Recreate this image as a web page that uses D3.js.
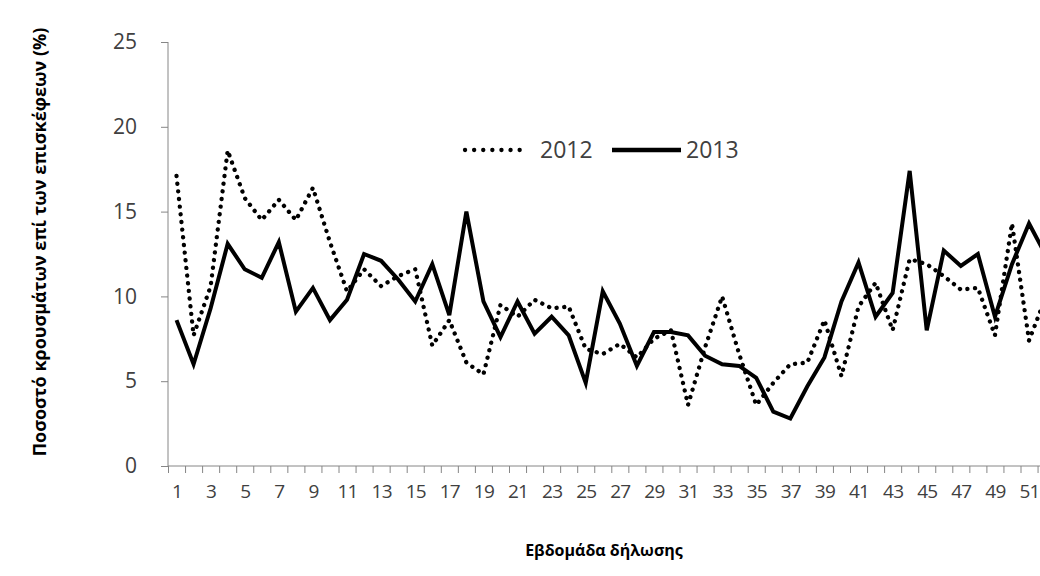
<!DOCTYPE html>
<html>
<head>
<meta charset="utf-8">
<script src="https://cdn.jsdelivr.net/npm/d3@7"></script>
<style>
  body { margin: 0; background: #fff; }
  svg { display: block; }
  text { font-family: "Open Sans", "Noto Sans", sans-serif; }
</style>
</head>
<body>
<div id="chart"></div>
<script>
// weeks of declaration
var weeks = d3.range(1, 53);

// percentage of cases among visits, 2012 (dotted)
var values2012 = [17.1, 7.7, 10.6, 18.6, 15.8, 14.5, 15.7, 14.5, 16.4, 13.2,
                  10.3, 11.6, 10.6, 11.2, 11.6, 7.1, 8.6, 6.1, 5.4, 9.5,
                  8.8, 9.8, 9.3, 9.4, 6.9, 6.6, 7.2, 6.4, 7.5, 8.0,
                  3.6, 7.0, 10.0, 6.6, 3.6, 4.9, 6.0, 6.1, 8.6, 5.3,
                  9.4, 10.8, 8.0, 12.2, 11.9, 11.2, 10.4, 10.5, 7.7, 14.3,
                  7.4, 10.0];

// percentage of cases among visits, 2013 (solid)
var values2013 = [8.6, 6.0, 9.3, 13.1, 11.6, 11.1, 13.2, 9.1, 10.5, 8.6,
                  9.8, 12.5, 12.1, 11.0, 9.7, 11.9, 8.9, 15.0, 9.7, 7.6,
                  9.7, 7.8, 8.8, 7.7, 4.9, 10.3, 8.4, 5.9, 7.9, 7.9,
                  7.7, 6.5, 6.0, 5.9, 5.2, 3.2, 2.8, 4.7, 6.4, 9.7,
                  12.0, 8.8, 10.2, 17.4, 8.0, 12.7, 11.8, 12.5, 8.8, 11.9,
                  14.3, 12.4];

var yTicks = [0, 5, 10, 15, 20, 25];
var seriesNames = ["2012", "2013"];

var width = 1040, height = 576;
var margin = {top: 42, left: 168, bottom: 110};
var bandW = 17.05;

var svg = d3.select("#chart").append("svg")
    .attr("width", width)
    .attr("height", height);

var x = d3.scaleLinear()
    .domain([0.5, weeks.length + 0.5])
    .range([margin.left, margin.left + weeks.length * bandW]);

var y = d3.scaleLinear()
    .domain([0, 25])
    .range([height - margin.bottom, margin.top]);

var axisColor = "#868686";
var textColor = "#404040";

// y axis
var yAxis = svg.append("g")
    .attr("transform", "translate(" + margin.left + ",0)")
    .call(d3.axisLeft(y).tickValues(yTicks).tickSize(7).tickPadding(24));
yAxis.select(".domain").attr("stroke", axisColor).attr("d", "M0," + y(25) + "V" + y(0));
yAxis.selectAll(".tick line").attr("stroke", axisColor);
yAxis.selectAll(".tick text")
    .attr("fill", textColor)
    .style("font-size", "21px");

// x axis: tick marks on band boundaries
var boundaries = d3.range(0, weeks.length + 1).map(function (d) { return d + 0.5; });
var xAxis = svg.append("g")
    .attr("transform", "translate(0," + y(0) + ")")
    .call(d3.axisBottom(x).tickValues(boundaries).tickSize(7).tickFormat(""));
xAxis.select(".domain").attr("stroke", axisColor).attr("d", "M" + margin.left + ",0H" + x(weeks.length + 0.5));
xAxis.selectAll(".tick line").attr("stroke", axisColor);

// x labels every second week
var xLabels = svg.append("g")
    .attr("transform", "translate(0," + y(0) + ")")
    .call(d3.axisBottom(x).tickValues(weeks.filter(function (d) { return d % 2 === 1; }))
        .tickSize(0).tickPadding(19).tickFormat(d3.format("d")));
xLabels.select(".domain").remove();
xLabels.selectAll(".tick text")
    .attr("fill", textColor)
    .style("font-size", "19px")
    .style("letter-spacing", "-0.8px");

var line = d3.line()
    .x(function (d, i) { return x(weeks[i]); })
    .y(function (d) { return y(d); });

svg.append("path")
    .datum(values2012)
    .attr("fill", "none")
    .attr("stroke", "#000")
    .attr("stroke-width", 4.3)
    .attr("stroke-linecap", "round")
    .attr("stroke-dasharray", "0.1 7.6")
    .attr("d", line);

svg.append("path")
    .datum(values2013)
    .attr("fill", "none")
    .attr("stroke", "#000")
    .attr("stroke-width", 4)
    .attr("stroke-linejoin", "miter")
    .attr("d", line);

// legend
var legend = svg.append("g").attr("transform", "translate(465,150)");
legend.append("line")
    .attr("x1", 0).attr("x2", 63).attr("y1", 0).attr("y2", 0)
    .attr("stroke", "#000").attr("stroke-width", 4.3)
    .attr("stroke-linecap", "round").attr("stroke-dasharray", "0.1 9");
legend.append("text")
    .attr("x", 75).attr("y", 8)
    .attr("fill", textColor)
    .style("font-size", "23px")
    .text(seriesNames[0]);
legend.append("line")
    .attr("x1", 147).attr("x2", 216).attr("y1", 0).attr("y2", 0)
    .attr("stroke", "#000").attr("stroke-width", 4.5);
legend.append("text")
    .attr("x", 221).attr("y", 8)
    .attr("fill", textColor)
    .style("font-size", "23px")
    .text(seriesNames[1]);

// axis titles
svg.append("text")
    .attr("transform", "translate(46,242) rotate(-90)")
    .attr("text-anchor", "middle")
    .attr("fill", "#000")
    .style("font-size", "18px")
    .style("font-weight", "bold")
    .text("Ποσοστό κρουσμάτων επί των επισκέφεων (%)");

svg.append("text")
    .attr("x", 604)
    .attr("y", 556)
    .attr("text-anchor", "middle")
    .attr("fill", "#000")
    .style("font-size", "16px")
    .style("font-weight", "bold")
    .text("Εβδομάδα δήλωσης");
</script>
</body>
</html>
